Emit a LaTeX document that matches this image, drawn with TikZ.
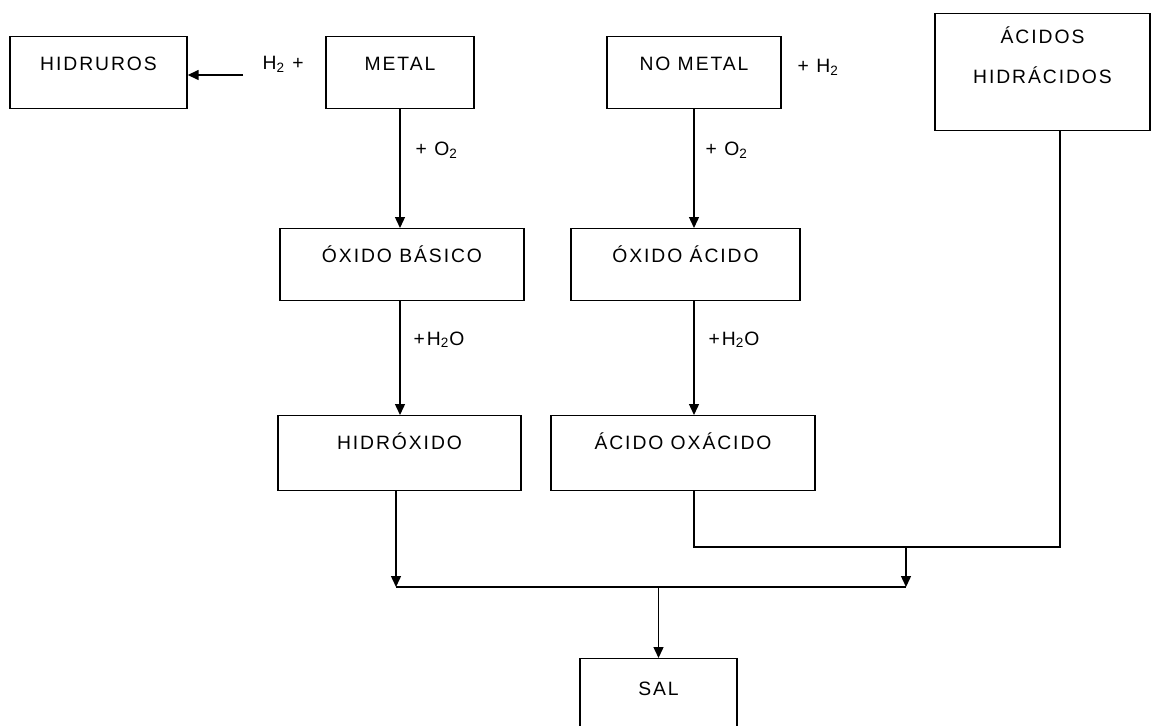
\documentclass[tikz,border=0pt]{standalone}
\usepackage{fontspec}
\setmainfont{Liberation Sans}[LetterSpace=10]
\usetikzlibrary{arrows.meta,positioning}

\begin{document}
\begin{tikzpicture}[x=0.02cm, y=-0.02cm, >={Triangle[width=0.2cm,length=0.22cm]},
  font=\fontsize{11}{13}\selectfont, line width=0.8pt,
  box/.style={draw, anchor=north, minimum height=1.44cm, inner xsep=0pt, inner ysep=0.2cm,
    text height=0.48cm, text depth=0.56cm},
  reagent/.style={anchor=base west, inner sep=0pt}]
  \path[use as bounding box, fill=white] (0,0) rectangle (1156,726);

  % fila superior
  \node[box, minimum width=3.54cm] (hidruros) at (98.5,36) {HIDRUROS};
  \node[box, minimum width=2.96cm] (metal) at (400,36) {METAL};
  \node[box, minimum width=3.48cm] (nometal) at (694,36) {NO METAL};
  \node[box, minimum width=4.3cm, minimum height=2.34cm, align=center,
    text height=1.2cm, text depth=0.74cm] (hidracidos) at (1042.5,13) {ÁCIDOS\\[0.34cm]HIDRÁCIDOS};

  % oxidos, hidroxido y acido
  \node[box, minimum width=4.88cm] (oxbasico) at (402,228) {ÓXIDO BÁSICO};
  \node[box, minimum width=4.58cm] (oxacido) at (685.5,228) {ÓXIDO ÁCIDO};
  \node[box, minimum width=4.86cm, minimum height=1.5cm, text depth=0.62cm] (hidroxido) at (399.5,415) {HIDRÓXIDO};
  \node[box, minimum width=5.28cm, minimum height=1.5cm, text depth=0.62cm] (acoxacido) at (683,415) {ÁCIDO OXÁCIDO};
  \node[box, minimum width=3.14cm, minimum height=1.9cm, text height=0.54cm, text depth=0.96cm] (sal) at (658.5,658) {SAL};

  % reactivos
  \node[reagent] (h2metal) at (262,70) {H\textsubscript{2} +};
  \node[reagent] (h2nometal) at (797,73) {+ H\textsubscript{2}};
  \node[reagent] (o2metal) at (415,156) {+ O\textsubscript{2}};
  \node[reagent] (o2nometal) at (705,156) {+ O\textsubscript{2}};
  \node[reagent] (aguabasico) at (413,345) {+H\textsubscript{2}O};
  \node[reagent] (aguaacido) at (708,345) {+H\textsubscript{2}O};

  \coordinate (h2start) at (243,75);
  \coordinate (busl) at (396,587);
  \coordinate (busr) at (906,587);
  \coordinate (busm) at (658.5,587);
  \coordinate (join) at (1060,547);
  \coordinate (drop) at (906,547);

  \draw[->] (h2start) -- (hidruros.east |- h2start);
  \draw[->] (metal.south) -- (metal.south |- oxbasico.north);
  \draw[->] (metal.south |- oxbasico.south) -- (metal.south |- hidroxido.north);
  \draw[->] (nometal.south) -- (nometal.south |- oxacido.north);
  \draw[->] (nometal.south |- oxacido.south) -- (nometal.south |- acoxacido.north);
  \draw[->] (hidroxido.south -| busl) -- (busl);
  \draw (acoxacido.south -| nometal.south) |- (join) -- (join |- hidracidos.south);
  \draw[->] (drop) -- (busr);
  \draw (busl) -- (busr);
  \draw[->] (busm) -- (sal.north);
\end{tikzpicture}
\end{document}
